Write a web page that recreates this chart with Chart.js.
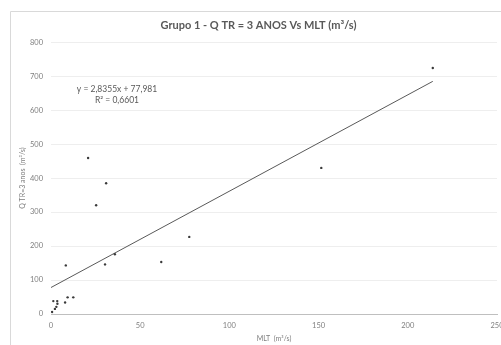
<!DOCTYPE html>
<html><head><meta charset="utf-8">
<script src="https://cdn.jsdelivr.net/npm/chart.js@4.4.0/dist/chart.umd.min.js"></script>
<style>html,body{margin:0;padding:0;background:#fff;}#wrap{width:501px;height:345px;}</style>
</head><body><div id="wrap"><canvas id="c" width="501" height="345"></canvas></div>
<script>
const mltValues = [214, 151.5, 77.5, 20.8, 30.9, 25.3, 8.3, 30.3, 35.8, 61.8, 0.6, 1.3, 2.2, 3.0, 3.5, 3.6, 7.9, 9.3, 12.5];
const qtrValues = [724, 430, 227, 459, 385, 320, 143, 146, 176, 153, 6, 38, 15, 21, 38, 30, 34, 49, 49];
const trendSlope = 2.8355;
const trendIntercept = 77.981;
const trendRange = [0, 214];
const titleText = 'Grupo 1 - Q TR = 3 ANOS Vs MLT (m³/s)';
const xTitle = 'MLT  (m³/s)';
const yTitle = 'Q TR=3 anos  (m³/s)';
const eqLines = ['y = 2,8355x + 77,981', 'R² = 0,6601'];

const points = mltValues.map((x, i) => ({x, y: qtrValues[i]}));
const trend = trendRange.map(x => ({x, y: trendSlope * x + trendIntercept}));
const FONT = 'Lato, "Open Sans", sans-serif';

const framePlugin = {
  id: 'frame',
  beforeDraw(chart) {
    const ctx = chart.ctx;
    ctx.save();
    ctx.strokeStyle = '#d9d9d9';
    ctx.lineWidth = 1;
    ctx.beginPath();
    ctx.moveTo(10.5, 345);
    ctx.lineTo(10.5, 11.5);
    ctx.lineTo(501, 11.5);
    ctx.stroke();
    ctx.restore();
  },
  afterDatasetsDraw(chart) {
    const ctx = chart.ctx;
    const xs = chart.scales.x, ys = chart.scales.y;
    ctx.save();
    ctx.fillStyle = '#595959';
    ctx.font = '8.5px ' + FONT;
    ctx.textAlign = 'center';
    ctx.textBaseline = 'middle';
    const cx = xs.getPixelForValue(37);
    ctx.fillText(eqLines[0], cx, ys.getPixelForValue(662));
    ctx.fillText(eqLines[1], cx, ys.getPixelForValue(629));
    ctx.restore();
  }
};

new Chart(document.getElementById('c'), {
  type: 'scatter',
  data: {
    datasets: [
      {
        data: points,
        backgroundColor: '#3a3a3a',
        borderColor: '#3a3a3a',
        pointRadius: 1.2,
        borderWidth: 0,
        pointStyle: 'circle',
        order: 1
      },
      {
        type: 'line',
        data: trend,
        borderColor: '#595959',
        borderWidth: 1,
        pointRadius: 0,
        fill: false,
        order: 2
      }
    ]
  },
  options: {
    responsive: false,
    animation: false,
    devicePixelRatio: 1,
    layout: {padding: {left: 16, right: 0, top: 19, bottom: 0}},
    plugins: {
      legend: {display: false},
      tooltip: {enabled: false},
      title: {
        display: true,
        text: titleText,
        color: '#595959',
        font: {family: FONT, size: 11, weight: 'bold'},
        padding: {top: 0, bottom: 10}
      }
    },
    scales: {
      x: {
        type: 'linear',
        min: 0, max: 250,
        ticks: {stepSize: 50, color: '#7f7f7f', font: {family: FONT, size: 7.5}, padding: 7, maxRotation: 0},
        grid: {display: false, drawTicks: false},
        border: {display: true, color: '#bfbfbf'},
        title: {display: true, text: xTitle, color: '#7f7f7f', font: {family: FONT, size: 7}, padding: {top: 0, bottom: 2}},
        afterFit(s) { s.height = 31; s.paddingRight = 0; s.paddingLeft = 0; }
      },
      y: {
        type: 'linear',
        min: 0, max: 800,
        ticks: {stepSize: 100, color: '#7f7f7f', font: {family: FONT, size: 7.5}, padding: 8},
        grid: {color: '#eeeeee', drawTicks: false},
        border: {display: false},
        title: {display: true, text: yTitle, color: '#7f7f7f', font: {family: FONT, size: 7}, padding: {top: 3, bottom: 2}},
        afterFit(s) { s.width = 35; }
      }
    }
  },
  plugins: [framePlugin]
});
</script>
</body></html>
